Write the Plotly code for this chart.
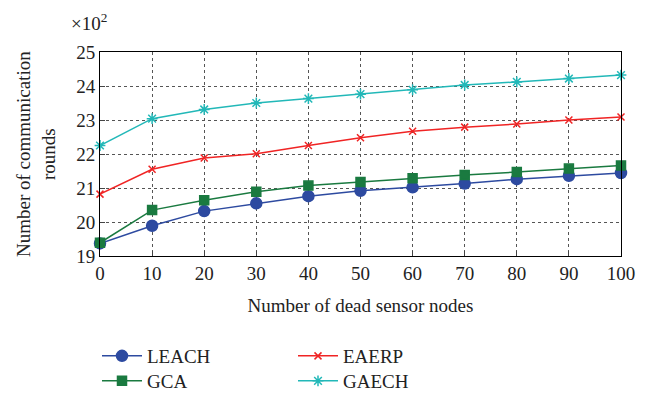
import plotly.graph_objects as go

x_nodes = [0, 10, 20, 30, 40, 50, 60, 70, 80, 90, 100]
leach = [19.37, 19.89, 20.32, 20.55, 20.76, 20.92, 21.02, 21.13, 21.26, 21.36, 21.44]
gca = [19.39, 20.35, 20.64, 20.89, 21.07, 21.18, 21.29, 21.38, 21.47, 21.57, 21.66]
eaerp = [20.82, 21.55, 21.88, 22.01, 22.25, 22.48, 22.67, 22.79, 22.88, 23.00, 23.09]
gaech = [22.25, 23.04, 23.31, 23.50, 23.63, 23.76, 23.89, 24.03, 24.12, 24.22, 24.32]
y_ticks = [19, 20, 21, 22, 23, 24, 25]

FONT = "Liberation Serif"
W, H = 646, 394

fig = go.Figure()
series = [
    ("LEACH", leach, "#2D4AA0", "circle", 11, "legend", 97, 337),
    ("GCA", gca, "#1A7A40", "square", 9, "legend2", 97, 362),
    ("EAERP", eaerp, "#F02424", "x-thin-open", 7, "legend3", 293, 337),
    ("GAECH", gaech, "#22B8B8", "asterisk-open", 9, "legend4", 293, 362),
]
leg_layout = {}
for name, ys, col, sym, sz, lg, lx, ly in series:
    fig.add_trace(go.Scatter(
        x=x_nodes, y=ys, name=name, mode="lines+markers",
        line=dict(color=col, width=1.5),
        marker=dict(symbol=sym, size=sz, color=col, line=dict(color=col, width=1.5)),
        cliponaxis=False, legend=lg,
    ))
    leg_layout[lg] = dict(orientation="v", xref="container", yref="container",
                          x=lx / W, y=1 - ly / H,
                          xanchor="left", yanchor="top", bgcolor="rgba(0,0,0,0)",
                          font=dict(family=FONT, size=19, color="#222"),
                          itemwidth=40, tracegroupgap=0)

fig.update_layout(
    width=W, height=H,
    margin=dict(l=100, r=25, t=52, b=138, autoexpand=False),
    paper_bgcolor="white", plot_bgcolor="white",
    font=dict(family=FONT, size=17, color="#222"),
    showlegend=True,
    **leg_layout,
    xaxis=dict(range=[0, 100], tickvals=x_nodes, showline=True, mirror=True,
               linecolor="black", linewidth=1, ticks="inside", ticklen=5,
               showgrid=True, gridcolor="#555", griddash="dot", gridwidth=1,
               zeroline=False,
               title=dict(text="Number of dead sensor nodes", font=dict(family=FONT, size=19)),
               tickfont=dict(family=FONT, size=19)),
    yaxis=dict(range=[19, 25], tickvals=y_ticks, showline=True, mirror=True,
               linecolor="black", linewidth=1, ticks="inside", ticklen=5,
               showgrid=True, gridcolor="#555", griddash="dot", gridwidth=1,
               zeroline=False,
               tickfont=dict(family=FONT, size=19)),
)
fig.add_annotation(text="Number of communication<br>rounds", xref="paper", yref="paper",
                   x=0, y=0.5, xanchor="center", yanchor="middle", xshift=-64, textangle=-90,
                   showarrow=False, font=dict(family=FONT, size=19, color="#222"))
fig.add_annotation(text="×10<sup>2</sup>", xref="paper", yref="paper",
                   x=0, y=1.0, xanchor="center", yanchor="bottom", yshift=16, xshift=-11,
                   showarrow=False, font=dict(family=FONT, size=19, color="#222"))

fig.write_html("out.html")
